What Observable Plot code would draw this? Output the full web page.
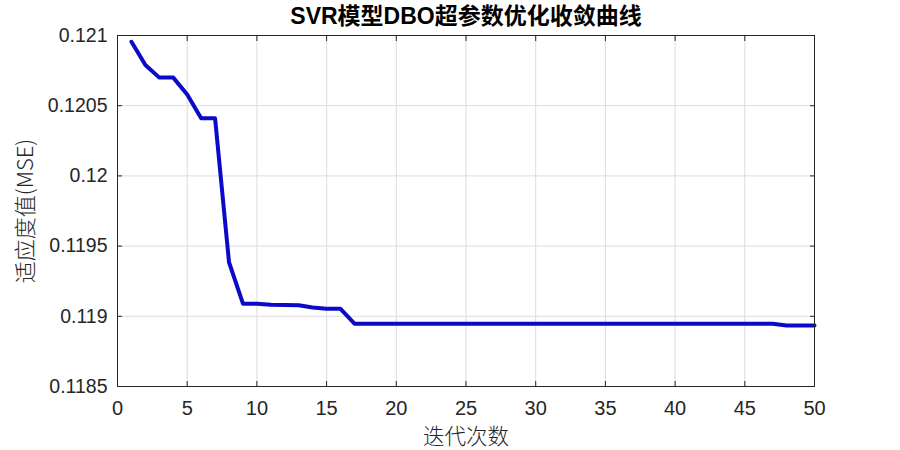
<!DOCTYPE html>
<html>
<head>
<meta charset="utf-8">
<script src="https://cdn.jsdelivr.net/npm/d3@7"></script>
<script src="https://cdn.jsdelivr.net/npm/@observablehq/plot@0.6"></script>
<style>
  html, body { margin: 0; padding: 0; background: #fff; }
</style>
</head>
<body>
<div id="chart"></div>
<script>
const titleText = "SVR模型DBO超参数优化收敛曲线";
const xLabel = "迭代次数";
const yLabel = "适应度值(MSE)";
const iterations = [1,2,3,4,5,6,7,8,9,10,11,12,13,14,15,16,17,18,19,20,21,22,23,24,25,26,27,28,29,30,31,32,33,34,35,36,37,38,39,40,41,42,43,44,45,46,47,48,49,50];
const fitness = [
  0.120955, 0.12079, 0.12070, 0.12070, 0.12058, 0.12041, 0.12041, 0.119385, 0.11909, 0.11909,
  0.119082, 0.11908, 0.119078, 0.119062, 0.119053, 0.119053, 0.118947, 0.118947, 0.118947, 0.118947,
  0.118947, 0.118947, 0.118947, 0.118947, 0.118947, 0.118947, 0.118947, 0.118947, 0.118947, 0.118947,
  0.118947, 0.118947, 0.118947, 0.118947, 0.118947, 0.118947, 0.118947, 0.118947, 0.118947, 0.118947,
  0.118947, 0.118947, 0.118947, 0.118947, 0.118947, 0.118947, 0.118947, 0.118935, 0.118935, 0.118935
];
const xTicks = [0,5,10,15,20,25,30,35,40,45,50];
const yTicks = [0.1185,0.119,0.1195,0.12,0.1205,0.121];

const data = iterations.map((it, i) => ({it, v: fitness[i]}));
const fmtY = d => String(+d.toFixed(4));
const axisColor = "#262626";
const sansFont = "'Liberation Sans', Arial, 'Noto Sans CJK SC', sans-serif";
const cjkFont = "'Noto Sans CJK SC', sans-serif";

const chart = Plot.plot({
  width: 900,
  height: 450,
  marginTop: 35,
  marginBottom: 64,
  marginLeft: 117,
  marginRight: 86,
  style: {fontFamily: sansFont, fontSize: "19px", color: axisColor, background: "#fff"},
  x: {domain: [0, 50]},
  y: {domain: [0.1185, 0.121]},
  marks: [
    Plot.gridX(xTicks, {stroke: "#dcdcdc", strokeOpacity: 1}),
    Plot.gridY(yTicks, {stroke: "#dcdcdc", strokeOpacity: 1}),
    Plot.line(data, {x: "it", y: "v", stroke: "#0a0ac8", strokeWidth: 4, strokeLinejoin: "round"}),
    Plot.frame({stroke: axisColor, strokeWidth: 1}),
    // inward ticks on all four sides
    Plot.axisX(xTicks, {anchor: "bottom", tickSize: -5, tickFormat: () => "", label: null, stroke: axisColor}),
    Plot.axisX(xTicks, {anchor: "top", tickSize: -5, tickFormat: () => "", label: null, stroke: axisColor}),
    Plot.axisY(yTicks, {anchor: "left", tickSize: -5, tickFormat: () => "", label: null, stroke: axisColor}),
    Plot.axisY(yTicks, {anchor: "right", tickSize: -5, tickFormat: () => "", label: null, stroke: axisColor}),
    // tick labels
    Plot.axisX(xTicks, {anchor: "bottom", tickSize: 0, tickPadding: 14, label: null, fontSize: 20, fill: axisColor}),
    Plot.axisY(yTicks, {anchor: "left", tickSize: 0, tickPadding: 10, tickFormat: fmtY, label: null, fontSize: 19.5, fill: axisColor}),
    // title and axis labels
    Plot.text([titleText], {frameAnchor: "top", lineAnchor: "middle", dy: -19, fontSize: 23, fontWeight: "bold", fill: "#000"}),
    Plot.text([xLabel], {frameAnchor: "bottom", lineAnchor: "middle", dy: 51, fontSize: 21.5, fill: axisColor, fontFamily: cjkFont, fontWeight: 300}),
    Plot.text([yLabel], {frameAnchor: "left", textAnchor: "middle", lineAnchor: "middle", rotate: -90, dx: -92, fontSize: 22, fill: axisColor, fontFamily: cjkFont, fontWeight: 300})
  ]
});
document.getElementById("chart").appendChild(chart);
</script>
</body>
</html>
